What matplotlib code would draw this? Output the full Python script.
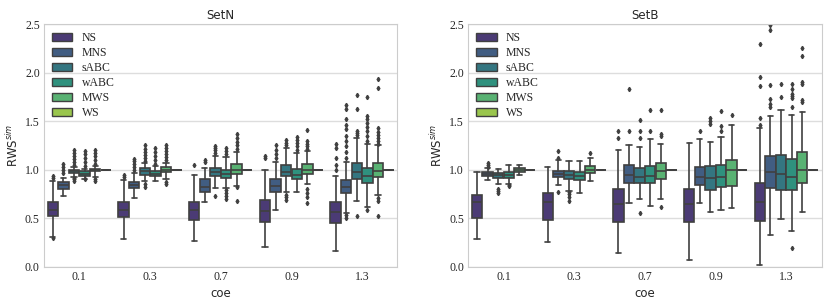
import numpy as np
import matplotlib
matplotlib.use("Agg")
import matplotlib.pyplot as plt
import seaborn as sns
from matplotlib.patches import Patch

coe = ["0.1", "0.3", "0.7", "0.9", "1.3"]
methods = ["NS", "MNS", "sABC", "wABC", "MWS", "WS"]

# SetN: rows = methods, cols = coe
n_med = [[0.585, 0.585, 0.585, 0.58, 0.57],
         [0.84, 0.84, 0.82, 0.83, 0.82],
         [0.985, 0.985, 0.98, 0.98, 0.98],
         [0.96, 0.96, 0.96, 0.95, 0.94],
         [1.0, 1.0, 1.0, 1.0, 0.99],
         [1.0, 1.0, 1.0, 1.0, 1.0]]
n_q1 = [[0.52, 0.51, 0.48, 0.46, 0.45],
        [0.80, 0.81, 0.77, 0.77, 0.76],
        [0.97, 0.95, 0.94, 0.94, 0.90],
        [0.94, 0.94, 0.92, 0.90, 0.86],
        [0.985, 0.98, 0.96, 0.96, 0.93],
        [1.0, 1.0, 1.0, 1.0, 1.0]]
n_q3 = [[0.67, 0.67, 0.67, 0.69, 0.67],
        [0.87, 0.87, 0.90, 0.90, 0.89],
        [1.0, 1.02, 1.02, 1.05, 1.07],
        [0.985, 0.99, 1.0, 1.01, 1.02],
        [1.01, 1.03, 1.06, 1.06, 1.07],
        [1.0, 1.0, 1.0, 1.0, 1.0]]
n_lo = [[0.31, 0.29, 0.27, 0.20, 0.16],
        [0.73, 0.71, 0.67, 0.59, 0.55],
        [0.93, 0.88, 0.81, 0.77, 0.68],
        [0.91, 0.88, 0.81, 0.77, 0.62],
        [0.93, 0.90, 0.83, 0.85, 0.74],
        [1.0, 1.0, 1.0, 1.0, 1.0]]
n_hi = [[0.88, 0.89, 0.95, 1.0, 0.94],
        [0.92, 0.97, 1.02, 1.08, 1.08],
        [1.03, 1.07, 1.14, 1.22, 1.33],
        [1.01, 1.04, 1.13, 1.17, 1.27],
        [1.04, 1.07, 1.18, 1.19, 1.25],
        [1.0, 1.0, 1.0, 1.0, 1.0]]
n_fl = [[[0.92, 0.94, 0.30], [0.93, 0.95], [1.05], [1.12, 1.14], [1.0, 1.05, 1.12, 1.22, 1.27]],
        [[0.97, 1.0, 1.03, 1.06], [1.0, 1.03, 1.06, 1.09, 1.11], [1.08, 1.10], [1.12, 1.16, 1.2, 1.25],
         [1.12, 1.18, 1.24, 1.3, 1.35, 1.42, 1.46, 1.52, 1.63, 1.67, 0.50, 0.53]],
        [[1.05, 1.08, 1.11, 1.14, 1.17, 1.2, 0.88, 0.9, 0.92], [1.09, 1.12, 1.15, 1.18, 1.21, 1.25, 0.82, 0.85],
         [1.17, 1.2, 1.22, 1.24, 0.73], [1.25, 1.28, 1.31, 0.69, 0.72, 0.74],
         [1.36, 1.38, 1.4, 1.63, 1.77, 0.52]],
        [[1.04, 1.08, 1.12, 1.16, 1.19, 0.90], [1.06, 1.1, 1.14, 1.18, 1.22],
         [1.16, 1.19, 1.22, 0.70, 0.73, 0.76, 0.79], [1.2, 1.24, 1.28, 1.31, 1.34],
         [1.3, 1.35, 1.4, 1.44, 1.48, 1.52, 1.55, 1.75, 0.59]],
        [[1.06, 1.1, 1.14, 1.17, 1.2, 0.88, 0.9], [1.1, 1.13, 1.16, 1.19, 1.22, 1.26, 0.85, 0.87],
         [1.21, 1.25, 1.29, 1.33, 1.37, 0.68, 0.82], [1.21, 1.24, 1.27, 1.3, 1.41, 0.66, 0.72, 0.76, 0.8],
         [1.27, 1.3, 1.33, 1.36, 1.39, 1.43, 1.84, 1.93, 0.52, 0.68, 0.71]],
        [[], [], [], [], []]]

# SetB
b_med = [[0.665, 0.665, 0.65, 0.65, 0.67],
         [0.96, 0.96, 0.95, 0.93, 0.98],
         [0.95, 0.95, 0.93, 0.92, 0.96],
         [0.95, 0.94, 0.94, 0.93, 0.93],
         [1.0, 1.0, 0.99, 1.0, 1.0],
         [1.0, 1.0, 1.0, 1.0, 1.0]]
b_q1 = [[0.50, 0.48, 0.46, 0.46, 0.47],
        [0.94, 0.93, 0.86, 0.84, 0.81],
        [0.92, 0.90, 0.86, 0.79, 0.79],
        [0.92, 0.89, 0.86, 0.82, 0.79],
        [0.98, 0.97, 0.90, 0.83, 0.86],
        [1.0, 1.0, 1.0, 1.0, 1.0]]
b_q3 = [[0.74, 0.76, 0.80, 0.80, 0.86],
        [0.98, 0.99, 1.05, 1.03, 1.14],
        [0.97, 0.99, 1.02, 1.04, 1.15],
        [0.98, 0.98, 1.04, 1.05, 1.11],
        [1.02, 1.04, 1.07, 1.10, 1.18],
        [1.0, 1.0, 1.0, 1.0, 1.0]]
b_lo = [[0.29, 0.26, 0.14, 0.07, 0.02],
        [0.89, 0.84, 0.66, 0.66, 0.33],
        [0.85, 0.78, 0.70, 0.56, 0.49],
        [0.85, 0.76, 0.63, 0.59, 0.37],
        [0.95, 0.88, 0.70, 0.61, 0.57],
        [1.0, 1.0, 1.0, 1.0, 1.0]]
b_hi = [[0.98, 1.03, 1.20, 1.28, 1.43],
        [1.02, 1.10, 1.25, 1.32, 1.55],
        [1.01, 1.09, 1.23, 1.29, 1.62],
        [1.05, 1.09, 1.32, 1.34, 1.56],
        [1.05, 1.12, 1.27, 1.46, 1.59],
        [1.0, 1.0, 1.0, 1.0, 1.0]]
b_fl = [[[], [], [1.33, 1.40], [], [1.46, 1.53, 1.86, 1.96, 2.30]],
        [[1.03, 1.05, 1.07], [1.12, 1.19, 0.77], [1.40, 1.83], [1.40], [1.65, 1.68, 1.73, 1.87, 2.44, 2.49]],
        [[0.76, 0.78, 0.80], [0.68, 0.72, 0.75, 0.77], [1.33, 1.40, 1.51, 0.55], [1.47, 1.50, 1.53], [1.75, 1.88]],
        [[0.83, 0.84], [], [1.40, 1.62], [1.40, 1.45, 1.60], [1.65, 1.74, 1.76, 1.78, 1.83, 1.88, 0.19]],
        [[], [1.17], [1.35, 1.37, 1.62, 0.62], [1.56], [1.70, 1.72, 1.88, 1.90, 2.17, 2.25]],
        [[], [], [], [], []]]

sets = [("SetN", n_med, n_q1, n_q3, n_lo, n_hi, n_fl),
        ("SetB", b_med, b_q1, b_q3, b_lo, b_hi, b_fl)]

sns.set_style("whitegrid")
plt.rcParams['font.family'] = ['Liberation Serif', 'DejaVu Serif']
plt.rcParams['mathtext.fontset'] = 'dejavusans'

colors = [sns.desaturate(c, 0.75) for c in sns.color_palette("viridis", 6)]
gray = "#404040"
sans = ['DejaVu Sans']

fig, axes = plt.subplots(1, 2, figsize=(8.3, 3.05), dpi=100)
fig.subplots_adjust(left=0.053, right=0.99, bottom=0.125, top=0.921, wspace=0.2)

group_w = 0.9
box_w = group_w / len(methods)

for ax, (title, med, q1, q3, lo, hi, fl) in zip(axes, sets):
    for j, m in enumerate(methods):
        stats = []
        for i in range(len(coe)):
            stats.append(dict(med=med[j][i], q1=q1[j][i], q3=q3[j][i],
                              whislo=lo[j][i], whishi=hi[j][i], fliers=fl[j][i]))
        pos = np.arange(len(coe)) - group_w / 2 + box_w * (j + 0.5)
        ax.bxp(stats, positions=pos, widths=box_w * 0.98, patch_artist=True,
               showfliers=True, manage_ticks=False,
               boxprops=dict(facecolor=colors[j], edgecolor=gray, linewidth=1.2),
               medianprops=dict(color=gray, linewidth=1.2),
               whiskerprops=dict(color=gray, linewidth=1.2),
               capprops=dict(color=gray, linewidth=1.2),
               flierprops=dict(marker="d", markersize=2.2, markerfacecolor=gray,
                               markeredgecolor=gray, linestyle="none"))
    ax.set_xlim(-0.5, len(coe) - 0.5)
    ax.set_ylim(0, 2.5)
    ax.set_xticks(range(len(coe)))
    ax.set_xticklabels(coe)
    ax.set_yticks([0, 0.5, 1.0, 1.5, 2.0, 2.5])
    ax.set_yticklabels(["0.0", "0.5", "1.0", "1.5", "2.0", "2.5"])
    ax.tick_params(labelsize=8.5, length=0, pad=3)
    ax.grid(axis="x", visible=False)
    ax.grid(axis="y", color="#dddddd", linewidth=1)
    for s in ax.spines.values():
        s.set_color("#cccccc")
    ax.set_title(title, fontsize=8.5, pad=4, family=sans)
    ax.set_xlabel("coe", fontsize=8.5, labelpad=3, family=sans)
    ax.set_ylabel("RWS$^{sim}$", fontsize=8.5, labelpad=3, family=sans)
    handles = [Patch(facecolor=colors[j], edgecolor=gray, label=m) for j, m in enumerate(methods)]
    ax.legend(handles=handles, loc="upper left", fontsize=8.5, frameon=False,
              handlelength=1.7, handleheight=0.7, labelspacing=0.25,
              borderaxespad=0.3, borderpad=0.4)

fig.savefig("out.png", dpi=100)
